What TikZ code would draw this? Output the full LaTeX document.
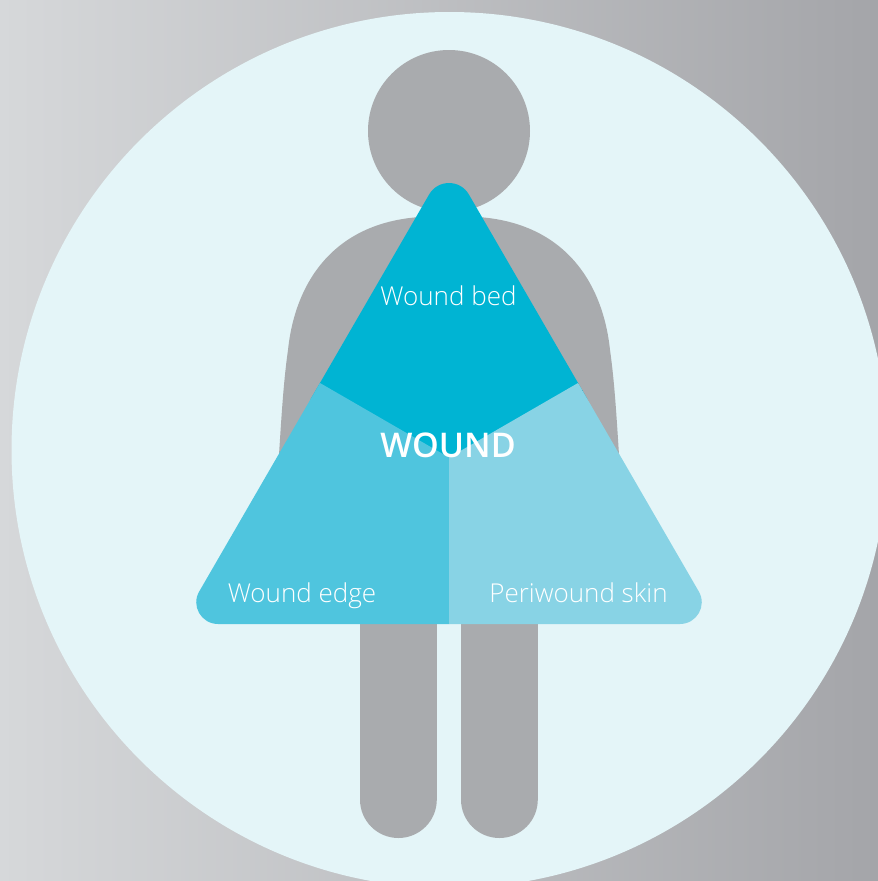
\documentclass[tikz,border=0pt]{standalone}
\usepackage{fontspec}
\setmainfont{Open Sans Light}
\newfontfamily\headfont{Open Sans Semibold}
\usepackage{tikz}
\usetikzlibrary{positioning}
\definecolor{bgleft}{HTML}{D6D8DA}
\definecolor{bgright}{HTML}{A4A5A9}
\definecolor{disc}{HTML}{E4F5F8}
\definecolor{figgrey}{HTML}{A9ABAE}
\definecolor{bedcol}{HTML}{00B4D3}
\definecolor{edgecol}{HTML}{4FC5DE}
\definecolor{skincol}{HTML}{88D3E5}
\begin{document}
\begin{tikzpicture}[x=1pt,y=-1pt,lbl/.style={text=white,font=\fontsize{26}{26}\selectfont,inner sep=0pt,anchor=base}]
\useasboundingbox (0,0) rectangle (878,881);
\clip (0,0) rectangle (878,881);
\shade[left color=bgleft,right color=bgright] (0,0) rectangle (878,881);
\fill[disc] (449.5,450) circle (438);
% figure
\fill[figgrey] (449,131) circle (81);
\fill[figgrey] (278,470) .. controls (281,425) and (283,385) .. (288,350)
  .. controls (295,283) and (333,223) .. (420,217) -- (478,217)
  .. controls (565,223) and (603,283) .. (610,350)
  .. controls (615,385) and (617,425) .. (620,470) -- cycle;
\foreach \x in {360,461}
  \fill[figgrey,rounded corners=38.4pt] (\x,500) -- (\x,838) -- (\x+76.8,838) -- (\x+76.8,500) -- cycle;
% triangle
\begin{scope}
\clip (429.1,194.5) .. controls (437.95,179.2) and (460.05,179.2) .. (468.9,194.5)
  -- (698.5,591) .. controls (707.5,605.6) and (696.8,624) .. (679.9,624)
  -- (218.1,624) .. controls (201.2,624) and (190.5,605.6) .. (199.5,591) -- cycle;
\fill[bedcol] (449,150) -- (300,395) -- (449,457.5) -- (598,395) -- cycle;
\fill[edgecol] (320,383) -- (449,457.5) -- (449,630) -- (170,630) -- cycle;
\fill[skincol] (578,383) -- (449,457.5) -- (449,630) -- (728,630) -- cycle;
\end{scope}
\node[lbl] (bed) at (448.5,305) {Wound bed};
\node[lbl,font=\fontsize{34}{34}\selectfont\headfont] (wound) at (448,457) {WOUND};
\node[lbl] (edge) at (302,602) {Wound edge};
\node[lbl] (skin) at (578.5,602) {Periwound skin};
\end{tikzpicture}
\end{document}
